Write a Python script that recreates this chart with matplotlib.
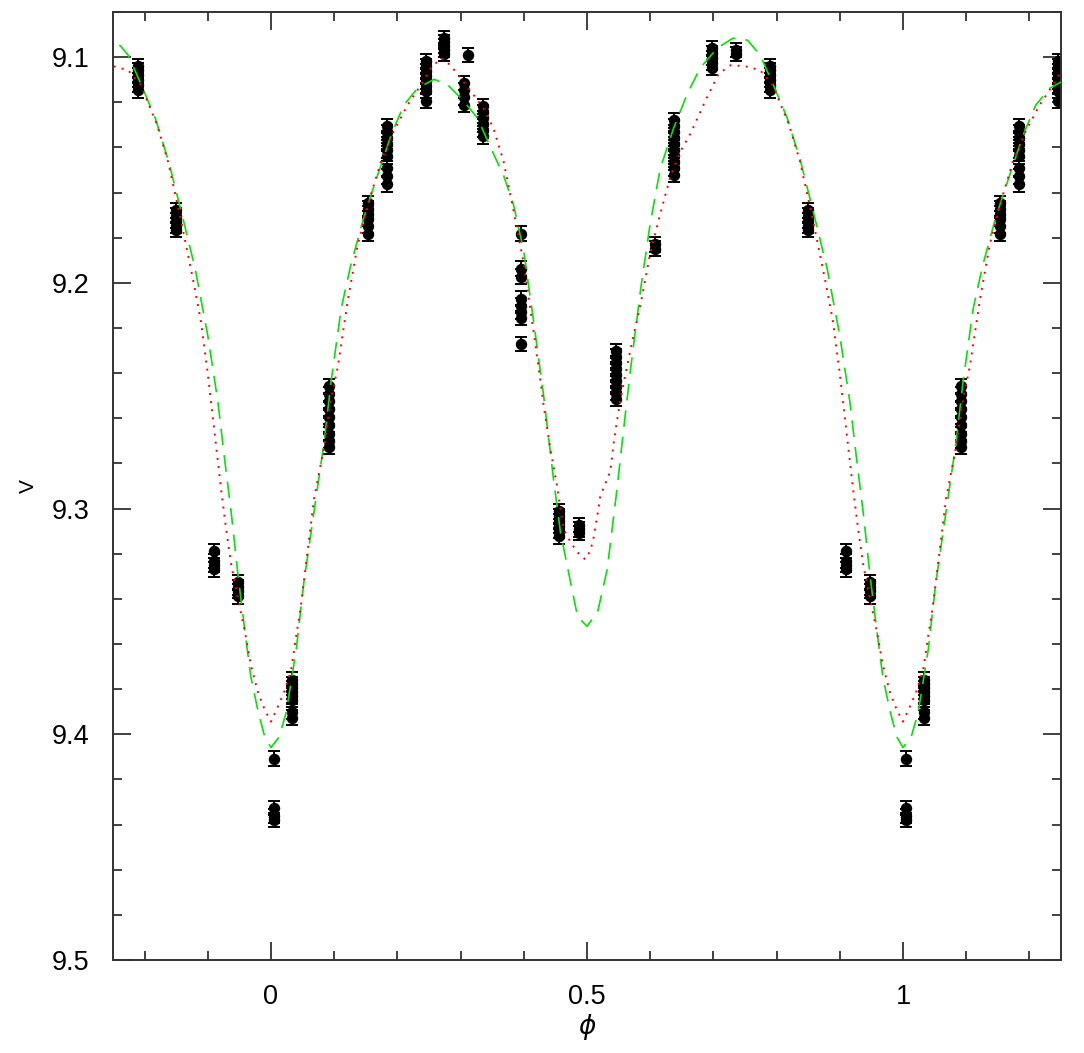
import numpy as np
import matplotlib
matplotlib.use("Agg")
import matplotlib.pyplot as plt
from matplotlib.ticker import MultipleLocator, FuncFormatter

# ---- observed photometry (phase in [0,1), V magnitudes per cluster) ----
obs_phase = [0.004, 0.034, 0.092, 0.153, 0.183, 0.245, 0.273, 0.305, 0.312,
             0.335, 0.396, 0.455, 0.488, 0.546, 0.608, 0.637, 0.698, 0.735,
             0.790, 0.850, 0.910, 0.948]
obs_V = [
    [9.4108, 9.4326, 9.4361, 9.4379],
    [9.3758, 9.3776, 9.3794, 9.3812, 9.3829, 9.3846, 9.3900, 9.3926],
    [9.2456, 9.2492, 9.2523, 9.2559, 9.2594, 9.2630, 9.2670, 9.2701, 9.2727],
    [9.1648, 9.1671, 9.1693, 9.1715, 9.1746, 9.1782],
    [9.1306, 9.1333, 9.1360, 9.1386, 9.1413, 9.1440, 9.1493, 9.1528, 9.1564],
    [9.1018, 9.1040, 9.1062, 9.1084, 9.1107, 9.1129, 9.1151, 9.1195],
    [9.0916, 9.0933, 9.0951, 9.0969, 9.0987],
    [9.1115, 9.1147, 9.1178, 9.1210],
    [9.0991],
    [9.1218, 9.1244, 9.1271, 9.1298, 9.1324, 9.1351],
    [9.1782, 9.1937, 9.1972, 9.2070, 9.2101, 9.2128, 9.2156, 9.2270],
    [9.3012, 9.3034, 9.3056, 9.3078, 9.3100, 9.3123],
    [9.3074, 9.3092, 9.3109],
    [9.2301, 9.2327, 9.2354, 9.2381, 9.2408, 9.2434, 9.2461, 9.2488, 9.2514],
    [9.1830, 9.1848],
    [9.1280, 9.1306, 9.1333, 9.1360, 9.1386, 9.1413, 9.1440, 9.1466, 9.1493, 9.1520],
    [9.0960, 9.0982, 9.1004, 9.1027, 9.1049],
    [9.0969, 9.0987],
    [9.1040, 9.1058, 9.1080, 9.1102, 9.1124, 9.1147],
    [9.1679, 9.1702, 9.1724, 9.1746, 9.1764],
    [9.3189, 9.3233, 9.3251, 9.3269],
    [9.3327, 9.3349, 9.3366, 9.3389],
]
obs_err = 0.0032

# ---- model light curves (green dashed, red dotted) ----
green_phase = [0.000, 0.013, 0.024, 0.040, 0.052, 0.068, 0.084, 0.095, 0.111, 0.126,
               0.145, 0.158, 0.174, 0.190, 0.210, 0.232, 0.258, 0.280, 0.305, 0.327,
               0.348, 0.368, 0.384, 0.400, 0.415, 0.431, 0.447, 0.458, 0.469, 0.485,
               0.500, 0.517, 0.532, 0.548, 0.558, 0.569, 0.585, 0.600, 0.616, 0.637,
               0.659, 0.679, 0.706, 0.731, 0.754, 0.774, 0.795, 0.817, 0.838, 0.858,
               0.880, 0.900, 0.916, 0.927, 0.937, 0.948, 0.959, 0.968, 0.979, 0.990,
               1.000]
green_V = [9.4059, 9.4011, 9.3904, 9.3624, 9.3327, 9.3016, 9.2705, 9.2439, 9.2115, 9.1924,
           9.1728, 9.1613, 9.1480, 9.1346, 9.1213, 9.1138, 9.1098, 9.1124, 9.1195, 9.1271,
           9.1404, 9.1524, 9.1657, 9.1861, 9.2159, 9.2492, 9.2869, 9.3105, 9.3256, 9.3478,
           9.3522, 9.3456, 9.3269, 9.2901, 9.2647, 9.2381, 9.2026, 9.1737, 9.1493, 9.1315,
           9.1160, 9.1049, 9.0960, 9.0916, 9.0925, 9.0991, 9.1124, 9.1271, 9.1462, 9.1684,
           9.1937, 9.2234, 9.2528, 9.2790, 9.3016, 9.3300, 9.3549, 9.3744, 9.3891, 9.4011,
           9.4059]

red_phase = [0.000, 0.011, 0.021, 0.032, 0.039, 0.047, 0.055, 0.063, 0.068, 0.082,
             0.095, 0.106, 0.114, 0.122, 0.137, 0.153, 0.174, 0.194, 0.216, 0.237,
             0.253, 0.269, 0.284, 0.300, 0.321, 0.336, 0.352, 0.368, 0.384, 0.400,
             0.416, 0.427, 0.431, 0.442, 0.453, 0.458, 0.463, 0.474, 0.485, 0.497,
             0.505, 0.510, 0.518, 0.521, 0.537, 0.543, 0.553, 0.569, 0.585, 0.600,
             0.616, 0.632, 0.648, 0.664, 0.687, 0.708, 0.727, 0.750, 0.774, 0.794,
             0.820, 0.837, 0.857, 0.878, 0.889, 0.900, 0.910, 0.921, 0.929, 0.937,
             0.948, 0.959, 0.968, 0.979, 0.990, 1.000]
red_V = [9.3944, 9.3877, 9.3811, 9.3713, 9.3580, 9.3438, 9.3256, 9.3078, 9.2958, 9.2758,
         9.2514, 9.2368, 9.2217, 9.2070, 9.1835, 9.1657, 9.1462, 9.1329, 9.1213, 9.1124,
         9.1049, 9.1004, 9.1036, 9.1093, 9.1169, 9.1226, 9.1315, 9.1462, 9.1684, 9.1915,
         9.2226, 9.2448, 9.2536, 9.2736, 9.2905, 9.3003, 9.3091, 9.3149, 9.3194, 9.3225,
         9.3189, 9.3136, 9.3003, 9.2945, 9.2834, 9.2692, 9.2514, 9.2292, 9.2092, 9.1870,
         9.1693, 9.1528, 9.1417, 9.1337, 9.1195, 9.1075, 9.1036, 9.1040, 9.1058, 9.1124,
         9.1302, 9.1462, 9.1715, 9.2004, 9.2168, 9.2403, 9.2647, 9.2914, 9.3091, 9.3247,
         9.3402, 9.3549, 9.3691, 9.3811, 9.3891, 9.3944]

# ---- figure ----
plt.rcParams['font.family'] = ['Liberation Sans', 'DejaVu Sans']
plt.rcParams['mathtext.fontset'] = 'dejavusans'

fig = plt.figure(figsize=(10.84, 10.53), dpi=100)
ax = fig.add_axes([113 / 1084, 93 / 1053, 948 / 1084, 948 / 1053])

ph = np.concatenate([[p] * len(v) for p, v in zip(obs_phase, obs_V)])
vv = np.concatenate(obs_V)
for k in (-1, 0, 1):
    ax.errorbar(ph + k, vv, yerr=obs_err, fmt='o', color='black', ms=7.2,
                capsize=4.3, elinewidth=1.4, capthick=1.4, zorder=2)

gp = np.concatenate([np.array(green_phase) + k for k in (-1, 0, 1)])
gv = np.concatenate([green_V] * 3)
rp = np.concatenate([np.array(red_phase) + k for k in (-1, 0, 1)])
rv = np.concatenate([red_V] * 3)
ax.plot(gp, gv, color='#00e600', lw=1.2, dashes=(10, 6), zorder=3)
ax.plot(rp, rv, color='#ff0000', lw=1.4, dashes=(1.0, 3.2), zorder=4)

ax.set_xlim(-0.25, 1.25)
ax.set_ylim(9.5, 9.08)

ax.xaxis.set_major_locator(MultipleLocator(0.5))
ax.xaxis.set_minor_locator(MultipleLocator(0.1))
ax.yaxis.set_major_locator(MultipleLocator(0.1))
ax.yaxis.set_minor_locator(MultipleLocator(0.02))
fmt = FuncFormatter(lambda v, p: ('%.2f' % v).rstrip('0').rstrip('.'))
ax.xaxis.set_major_formatter(fmt)
ax.yaxis.set_major_formatter(fmt)

spc = '#333333'
ax.tick_params(which='both', direction='in', top=True, right=True,
               color=spc, width=1.3, labelsize=19.5, pad=17)
ax.tick_params(which='major', length=13)
ax.tick_params(which='minor', length=6.5)
for s in ax.spines.values():
    s.set_color(spc)
    s.set_linewidth(1.4)

ax.set_ylabel('V', fontsize=15)
ax.yaxis.set_label_coords(-0.079, 0.5)
ax.set_xlabel(r'$\phi$', fontsize=19)
ax.xaxis.set_label_coords(0.5, -0.055)

fig.savefig('out.png', dpi=100)
